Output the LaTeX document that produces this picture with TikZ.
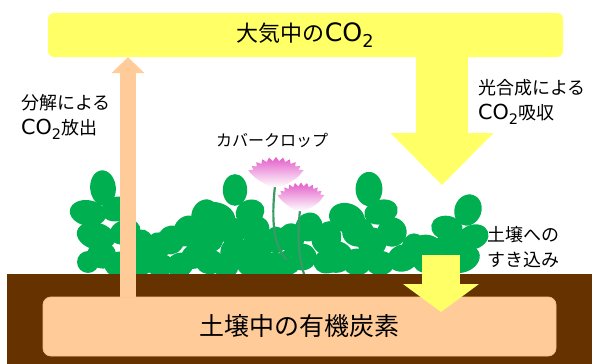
\documentclass[tikz,border=0pt]{standalone}
\usepackage{fontspec}
\setmainfont{Noto Sans CJK JP}
\newfontfamily\latinfont{DejaVu Sans}[Scale=1.15]
\newcommand{\COtwo}{{\latinfont CO\textsubscript{2}}}
\usetikzlibrary{arrows.meta}

\definecolor{skyyellow}{HTML}{FFFF66}
\definecolor{soilorange}{HTML}{FFCC99}
\definecolor{boxedge}{HTML}{F6BE8A}
\definecolor{soilbrown}{HTML}{663300}
\definecolor{leafgreen}{HTML}{00B050}
\definecolor{stemgreen}{HTML}{3A9A66}
\definecolor{petal}{HTML}{E35DC9}

% one leaflet: centre x, centre y, x radius, y radius, tilt
\newcommand{\lf}[5]{\fill[leafgreen, rotate around={#5:(#1,#2)}] (#1,#2)
  ellipse [x radius={1.22*#3 pt}, y radius={1.22*#4 pt}];}

% fan-shaped flower head, base at (#1,#2), scaled by #3 and #4
\newcommand{\flowerhead}[4]{%
  \begin{scope}[shift={(#1,#2)}, xscale=#3, yscale=#4]
    \shade[top color=petal, bottom color=white, middle color=petal!50!white]
      (-5,0) .. controls (-14,-4) and (-24,-10) .. (-28.2,-16.8)
      \foreach \a in {160,146,...,20} {
        -- ({30*cos(\a)},{-10-20*sin(\a)})
        -- ({26*cos(\a-7)},{-10-16*sin(\a-7)}) }
      .. controls (24,-10) and (14,-4) .. (5,0) -- cycle;
  \end{scope}}

\begin{document}
\begin{tikzpicture}[x=1pt, y=-1pt,
  every node/.style={inner sep=0pt},
  skybox/.style={fill=skyyellow, rounded corners=6pt,
    minimum width=515pt, minimum height=44pt, font=\fontsize{22}{26}\selectfont},
  soilbox/.style={fill=soilorange, draw=boxedge, line width=0.8pt, rounded corners=8pt,
    minimum width=513pt, minimum height=59pt, font=\fontsize{25}{30}\selectfont},
  sidelabel/.style={align=left, anchor=north west, font=\fontsize{18}{25}\selectfont},
  stem/.style={draw=stemgreen, line width=2.2pt, line cap=round},
  release/.style={soilorange, line width=16pt,
    -{Triangle[width=33pt, length=16pt, line width=0pt]}},
  uptake/.style={skyyellow, line width=52pt,
    -{Triangle[width=103pt, length=52pt, line width=0pt]}},
  sink/.style={skyyellow, line width=38pt,
    -{Triangle[width=76pt, length=28pt, line width=0pt]}}
]
\useasboundingbox (0,0) rectangle (592,364);

% ---- cover crop leaves ----
% plant at the far left
\lf{103}{188}{10.5}{14.5}{5}
\lf{88}{213}{15}{10.5}{-10}
\lf{117}{209}{13}{10}{15}
\lf{96}{236}{16}{11}{-15}
\lf{125}{232}{13}{10}{20}
\lf{102}{255}{12}{11}{-20}
\lf{119}{264}{12}{10}{20}
\lf{88}{262}{9}{9}{0}
% low group between the first two plants
\lf{143}{244}{9}{12}{10}
\lf{157}{248}{10}{13}{-10}
\lf{171}{240}{11}{12}{-20}
\lf{187}{231}{11}{13}{-25}
\lf{160}{265}{12}{9}{0}
\lf{180}{265}{11}{10}{20}
\lf{195}{256}{12}{10}{30}
\lf{140}{265}{10}{9}{0}
\lf{205}{215}{11}{13}{-20}
\lf{200}{240}{12}{12}{0}
% second plant
\lf{235}{190}{10}{13}{0}
\lf{216}{217}{16}{12}{-15}
\lf{250}{212}{12}{10}{20}
\lf{210}{238}{11}{12}{0}
\lf{232}{231}{12}{11}{-10}
\lf{256}{229}{11}{11}{20}
\lf{235}{252}{12}{12}{0}
\lf{258}{245}{13}{12}{20}
\lf{253}{265}{13}{10}{0}
\lf{272}{265}{12}{10}{20}
\lf{210}{262}{12}{10}{0}
\lf{226}{268}{10}{8}{0}
% low group under the flowers
\lf{291}{238}{11}{12}{0}
\lf{309}{227}{11}{12}{-20}
\lf{325}{240}{11}{12}{20}
\lf{302}{257}{12}{11}{0}
\lf{328}{261}{12}{10}{20}
\lf{287}{263}{11}{10}{0}
\lf{276}{240}{9}{11}{0}
% third plant
\lf{369}{189}{11}{14}{0}
\lf{347}{218}{15}{12}{-20}
\lf{381}{212}{14}{10}{15}
\lf{329}{237}{10}{13}{0}
\lf{358}{232}{13}{12}{0}
\lf{392}{232}{12}{12}{20}
\lf{372}{242}{12}{12}{0}
\lf{380}{263}{12}{10}{0}
\lf{403}{258}{13}{11}{20}
\lf{336}{257}{14}{13}{0}
\lf{357}{262}{12}{11}{0}
% plant at the right
\lf{468}{210}{11}{13}{-20}
\lf{447}{228}{13}{10}{-10}
\lf{473}{237}{13}{10}{20}
\lf{427}{247}{13}{10}{-10}
\lf{450}{244}{12}{10}{0}
\lf{462}{259}{15}{11}{20}
\lf{427}{261}{12}{10}{0}
\lf{442}{265}{11}{9}{0}
\lf{414}{248}{10}{12}{0}

% ---- flowers ----
\draw[stem] (275,186) .. controls (271,222) and (274,246) .. (286,259);
\draw[stem] (300,210) .. controls (297,238) and (299,258) .. (304,274);
\flowerhead{276}{187}{0.98}{1}
\flowerhead{301}{211}{0.83}{0.95}

% ---- soil ----
\fill[soilbrown] (7,274) rectangle (592,364);
\node[soilbox] (soc) at (299.5,326.5) {土壌中の有機炭素};

% ---- atmosphere ----
\node[skybox] (air) at (305.5,35) {大気中の\COtwo};

% ---- carbon flows ----
\coordinate (relx) at (128,0);
\coordinate (uptip) at (442,185);
\coordinate (sinktop) at (441,255);
\coordinate (sinktip) at (441,312);
\draw[release] (soc.north -| relx) -- (air.south -| relx);
\draw[uptake] (air.center -| uptip) -- (uptip);
\draw[sink] (sinktop) -- (sinktip);

% ---- labels ----
\node[sidelabel] (decomp) at (21,94) {分解による\\\COtwo 放出};
\node[sidelabel] (photo) at (478,79) {光合成による\\\COtwo 吸収};
\node[sidelabel] (incorp) at (487,226) {土壌への\\すき込み};
\node[font=\fontsize{16}{20}\selectfont] (cover) at (272,140) {カバークロップ};
\end{tikzpicture}
\end{document}
